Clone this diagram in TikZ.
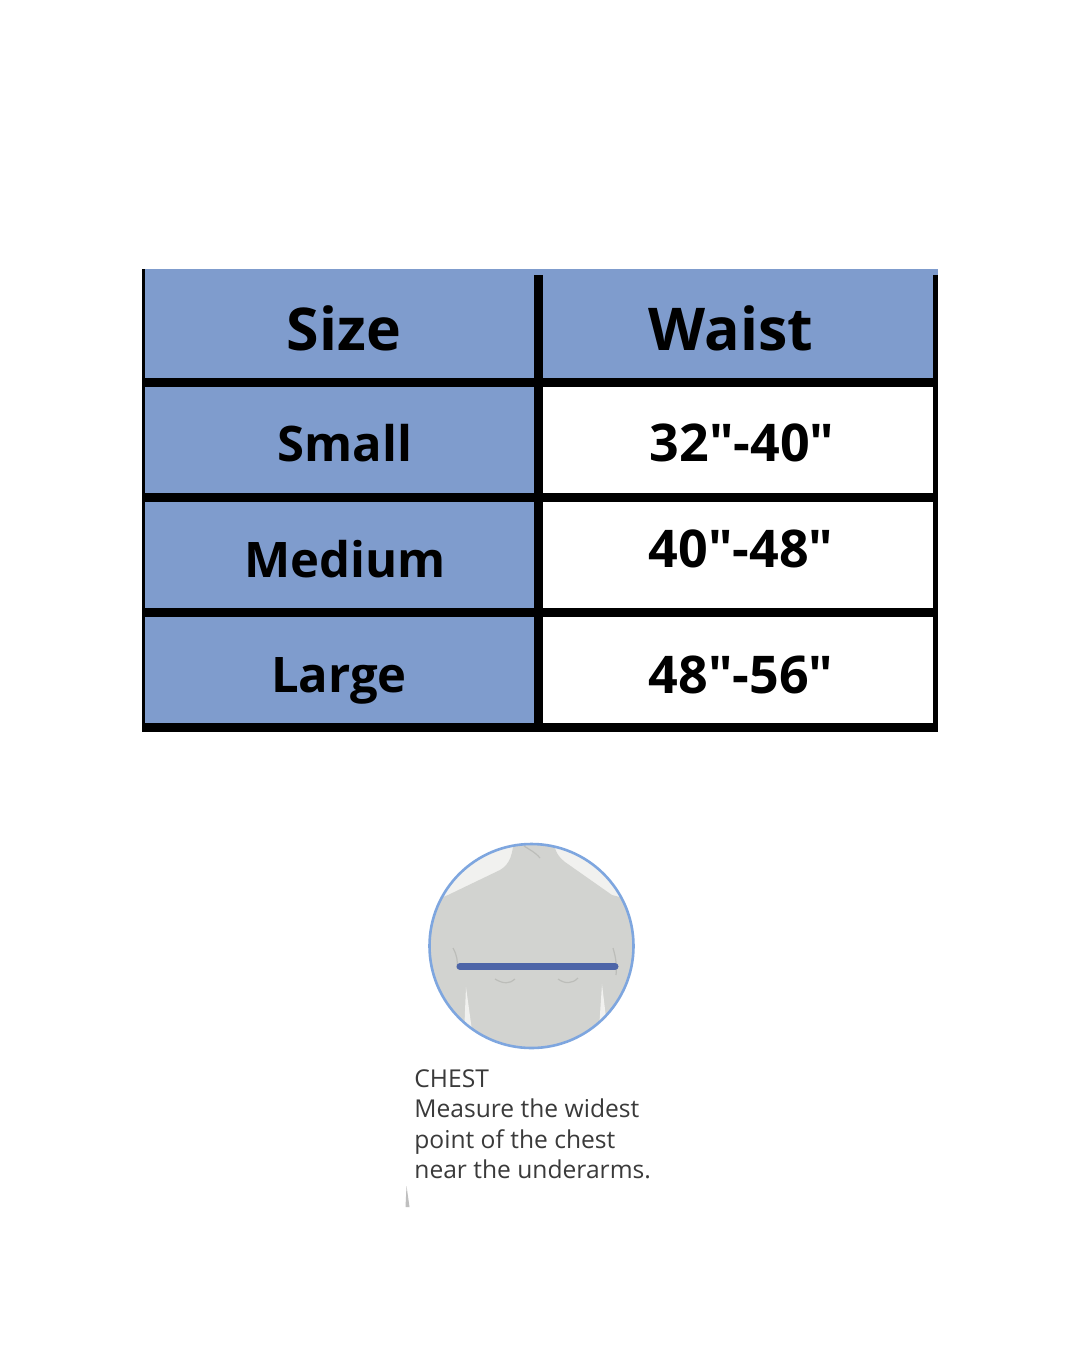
\documentclass[tikz,border=0pt]{standalone}
\usepackage{fontspec}
\setmainfont{Open Sans}
\newfontfamily\numfont{Open Sans}[Ligatures=TeXOff]
\usetikzlibrary{positioning}
\definecolor{cellblue}{RGB}{127,156,205}
\definecolor{bodygray}{RGB}{210,211,208}
\definecolor{backgray}{RGB}{241,241,239}
\definecolor{ringblue}{RGB}{126,166,223}
\definecolor{barblue}{RGB}{77,101,168}
\definecolor{notegray}{RGB}{58,58,58}
\definecolor{foldgray}{RGB}{188,189,185}
\tikzset{
	headtext/.style={anchor=base,font=\fontsize{29.5}{30}\selectfont\bfseries},
	sizetext/.style={anchor=base,font=\fontsize{24.5}{25}\selectfont\bfseries},
	waisttext/.style={anchor=base,font=\numfont\fontsize{26}{26}\selectfont\bfseries},
	notetext/.style={anchor=base west,text=notegray,inner sep=0pt,font=\fontsize{12.3}{15}\selectfont},
	rule/.style={line width=4.5pt,black},
	fold/.style={foldgray,line width=0.6pt},
}

\begin{document}
\begin{tikzpicture}[x=0.5pt,y=-0.5pt]
	\useasboundingbox[fill=white] (0,0) rectangle (1080,1350);
	% table
	\fill[cellblue] (142,269) rectangle (538,727);
	\fill[cellblue] (538,269) rectangle (938,383);
	\foreach \y in {382.5,497.5,612.5,727.5}
		\draw[rule] (142,\y)--(938,\y);
	\draw[rule] (538.5,275)--(538.5,732);
	\draw[black,line width=2.5pt] (935.5,275)--(935.5,732);
	\draw[black,line width=1.5pt] (143.5,269)--(143.5,732);
	\node[headtext] (size) at (344,350) {Size};
	\node[headtext] (waist) at (731,350) {Waist};
	\node[sizetext] (small) at (345,461) {Small};
	\node[sizetext] (medium) at (345,577) {Medium};
	\node[sizetext] (large) at (339,692) {Large};
	\node[waisttext] (w1) at (742,461) {32"-40"};
	\node[waisttext] (w2) at (741,567) {40"-48"};
	\node[waisttext] (w3) at (741,693) {48"-56"};
	% chest picture
	\begin{scope}
		\clip (531.5,946) circle [radius=102];
		\fill[backgray] (420,835) rectangle (645,1060);
		\fill[bodygray] (514,835) .. controls (513,855) and (510,864) .. (500,870)
			-- (448,895) .. controls (435,900) and (428,905) .. (425,915)
			-- (425,1060) -- (640,1060) -- (640,915)
			.. controls (636,904) and (626,898) .. (612,895)
			-- (565,862) .. controls (556,855) and (554,848) .. (553,835) -- cycle;
		\fill[backgray] (466,987) -- (463,1060) -- (476,1060) -- cycle;
		\fill[backgray] (602,984) -- (611,1060) -- (597,1060) -- cycle;
		\draw[fold] (453,948) .. controls (457,955) and (458,962) .. (457,968);
		\draw[fold] (613,948) .. controls (616,958) and (617,966) .. (616,975);
		\draw[fold] (495,979) .. controls (503,984) and (510,984) .. (515,979);
		\draw[fold] (558,979) .. controls (565,984) and (572,984) .. (578,978);
		\draw[fold] (524,846) .. controls (530,850) and (535,852) .. (540,858);
	\end{scope}
	\draw[ringblue,line width=1.3pt] (531.5,946) circle [radius=102];
	\draw[barblue,line width=3.5pt,line cap=round] (460,966.5)--(615,966.5);
	\node[notetext] (chest) at (414,1087) {CHEST};
	\node[notetext] (note1) at (414,1117.5) {Measure the widest};
	\node[notetext] (note2) at (414,1148) {point of the chest};
	\node[notetext] (note3) at (414,1178) {near the underarms.};
	\fill[gray!50] (405.5,1207) -- (406.5,1186) -- (409.5,1207) -- cycle;
\end{tikzpicture}
\end{document}
